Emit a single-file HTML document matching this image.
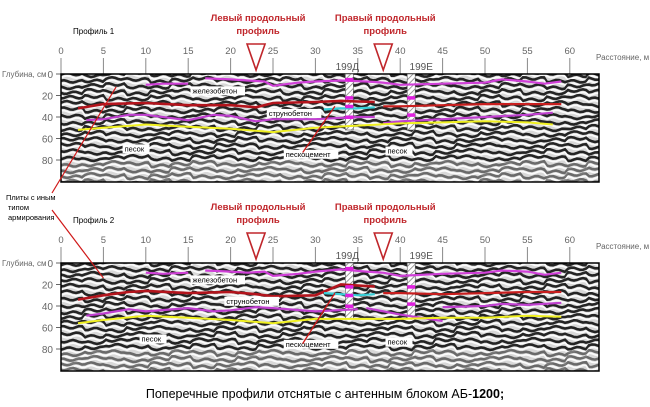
<!DOCTYPE html>
<html><head><meta charset="utf-8"><style>
body{margin:0;background:#fff;width:650px;height:402px;overflow:hidden;font-family:"Liberation Sans",sans-serif}
svg text{font-family:"Liberation Sans",sans-serif}
</style></head><body>
<svg id="chart" width="650" height="402" viewBox="0 0 650 402" xmlns="http://www.w3.org/2000/svg">
<defs>
<pattern id="hatch" width="4" height="4" patternUnits="userSpaceOnUse" patternTransform="rotate(45)">
<rect width="4" height="4" fill="#fff"/><line x1="0" y1="0" x2="0" y2="4" stroke="#777" stroke-width="1.5"/></pattern>
</defs>
<g id="root"></g>
<text x="325" y="398" text-anchor="middle" font-size="12.5" fill="#000">Поперечные профили отснятые с антенным блоком АБ-<tspan font-weight="bold">1200;</tspan></text>
</svg>
<script>
// ---- data ----
const xTicks = [0,5,10,15,20,25,30,35,40,45,50,55,60];
const yTicks = [0,20,40,60,80];
const profileNames = ["Профиль 1","Профиль 2"];
const leftProfileDist = 23, rightProfileDist = 38;
const borehole1Dist = 34, borehole2Dist = 41.3;
// Profile 1 interpretation lines (distance m, depth cm)
const p1MagTopA_x=[10,12,15], p1MagTopA_y=[10,9,9];
const p1MagTopB_x=[17,20,22,24,25,28,30,33,36,38,40,45,50,52,55,57,59], p1MagTopB_y=[4,5,6,7,11,8,7,6,7,8,10,9,8,5,7,9,7];
const p1RedA_x=[2,5,10,15,20,23,25,30,33,37], p1RedA_y=[32,28,27,29,29,31,27,26,25,26];
const p1RedB_x=[38,40,45,50,55,59], p1RedB_y=[30,30,29,28,28,28];
const p1Cyan_x=[31,33,35,37], p1Cyan_y=[33,32,32,31];
const p1MagLowA_x=[3,5,8,10,15,18,20,23,25,30,35,37], p1MagLowA_y=[43,42,38,38,43,38,39,44,42,42,40,40];
const p1MagLowB_x=[38,40,45,50,55,58], p1MagLowB_y=[46,44,42,40,38,36];
const p1Yel_x=[2,5,10,15,20,25,30,35,40,45,50,55,58], p1Yel_y=[52,50,47,49,51,54,50,48,46,45,44,45,47];
// Profile 2
const p2MagTopA_x=[10,12,15], p2MagTopA_y=[9,10,9];
const p2MagTopB_x=[17,20,22,24,25,28,30,33,36,38,40,45,50,52,55,57,59], p2MagTopB_y=[7,8,9,8,12,10,8,6,8,9,12,10,9,7,8,11,9];
const p2RedA_x=[2,5,8,10,15,20,23,25,30,33,37], p2RedA_y=[34,30,27,26,28,27,29,31,30,20,22];
const p2RedB_x=[38,40,45,50,55,59], p2RedB_y=[28,28,29,28,27,27];
const p2Cyan_x=[31,33,35,37], p2Cyan_y=[28,29,30,29];
const p2MagLowA_x=[3,5,8,10,15,18,20,23,25,30,35], p2MagLowA_y=[49,47,43,45,42,45,44,41,42,45,43];
const p2MagLowB_x=[36,40,45], p2MagLowB_y=[42,48,54];
const p2MagLowC_x=[45,50,52,55,59], p2MagLowC_y=[41,40,38,39,37];
const p2Yel_x=[2,5,10,15,20,25,30,35,40,45,50,55,59], p2Yel_y=[56,53,49,51,53,56,52,52,52,51,51,49,50];

const NS="http://www.w3.org/2000/svg";
const root=document.getElementById('root');
function mk(tag,attrs,parent){const e=document.createElementNS(NS,tag);for(const k in attrs)e.setAttribute(k,attrs[k]);(parent||root).appendChild(e);return e;}

const X0=61, PX=8.48, RIGHT=599, DEPTHSCALE=1.075;
function sx(d){return X0+d*PX;}

function drawPanel(idx, top){
  const g=mk('g',{});
  
  
  const sy=v=>top+v*DEPTHSCALE;
  const bottom=top+108;
  // title
  const t=mk('text',{x:73,y:top-40,'font-size':8,fill:'#000'},g);t.textContent=profileNames[idx];
  
  
  // x axis ticks
  xTicks.forEach(v=>{
    const l=mk('line',{x1:sx(v),x2:sx(v),y1:top-16,y2:top,stroke:'#888','stroke-width':1},g);
    
    
    const tx=mk('text',{x:sx(v),y:top-20,'font-size':9.5,fill:'#666','text-anchor':'middle'},g);tx.textContent=v;
    
    
  });
  const xl=mk('text',{x:596,y:top-14,'font-size':8,fill:'#666'},g);xl.textContent='Расстояние, м';
  
  
  const yl=mk('text',{x:2,y:top+3,'font-size':8,fill:'#666'},g);yl.textContent='Глубина, см';
  
  
  yTicks.forEach(v=>{
    const l=mk('line',{x1:X0-5,x2:X0,y1:sy(v),y2:sy(v),stroke:'#666'},g);
    
    
    const tx=mk('text',{x:X0-8,y:sy(v)+4,'font-size':10,fill:'#666','text-anchor':'end'},g);tx.textContent=v;
    
    
  });
  // radargram
  const rg=mk('g',{},g);
  
  
  mk('rect',{x:X0,y:top,width:RIGHT-X0,height:108,fill:'#d8d8d8'},rg);
  const clipId='clip'+idx;
  const cp=mk('clipPath',{id:clipId},g);mk('rect',{x:X0,y:top,width:RIGHT-X0,height:108},cp);
  const sg=mk('g',{'clip-path':'url(#'+clipId+')'},rg);
  for(let k=-1;k<20;k++){
    let d='',dw='';
    for(let x=X0;x<=RIGHT+4;x+=3){
      const seg=Math.floor((x-X0)/22);
      const ph=Math.sin(seg*1.7+k*0.9+idx)*1.8;
      const y=top+k*6+ph+Math.sin(x*0.35+k*1.3+seg)*1.2;
      d+=(x===X0?'M':'L')+x+','+y.toFixed(1)+' ';
      dw+=(x===X0?'M':'L')+x+','+(y+3).toFixed(1)+' ';
    }
    const op=(k>14)?0.55:0.9;
    mk('path',{d:d,fill:'none',stroke:'#111','stroke-width':2.6,'stroke-opacity':op},sg);
    mk('path',{d:dw,fill:'none',stroke:'#fff','stroke-width':1.8,'stroke-opacity':0.9},sg);
  }
  mk('rect',{x:X0,y:top,width:RIGHT-X0,height:108,fill:'none',stroke:'#000','stroke-width':1.5},rg);
  // boreholes
  [[borehole1Dist,'199Д'],[borehole2Dist,'199Е']].forEach(([d,lab])=>{
    const r=mk('rect',{x:sx(d)-4,y:top,width:8,height:56,fill:'url(#hatch)',stroke:'#555','stroke-width':0.6},g);
    
    
    const tx=mk('text',{x:sx(d)-(lab==='199Д'?2:-10),y:top-4,'font-size':10,fill:'#555','text-anchor':'middle'},g);tx.textContent=lab;
    
    
  });
  return {g,sy,top,bottom};
}

function line(panel,xs,ys,color,name,w){
  const d=xs.map((v,i)=>(i?'L':'M')+sx(v).toFixed(1)+','+panel.sy(ys[i]).toFixed(1)).join(' ');
  const p=mk('path',{d:d,fill:'none',stroke:color,'stroke-width':w||2.2},panel.g);
  
  
}
function label(panel,d,dep,txt){
  const w=txt.length*4.6+4;
  const r=mk('rect',{x:sx(d)-2,y:panel.sy(dep)-7,width:w,height:9,fill:'#fff'},panel.g);
  
  
  const t=mk('text',{x:sx(d),y:panel.sy(dep),'font-size':7.5,fill:'#000'},panel.g);t.textContent=txt;
  
  
}
function triangles(top){
  [[leftProfileDist,'Левый продольный'],[rightProfileDist,'Правый продольный']].forEach(([d,txt])=>{
    const c=sx(d);
    const p=mk('path',{d:`M${c-9},${top-30} L${c+9},${top-30} L${c},${top-4} Z`,fill:'#fff',stroke:'#c0262b','stroke-width':1.6});
    
    
    const t1=mk('text',{x:c+2,y:top-53,'font-size':9.5,'font-weight':'bold',fill:'#c0262b','text-anchor':'middle'});t1.textContent=txt;
    
    
    const t2=mk('text',{x:c+2,y:top-40,'font-size':9.5,'font-weight':'bold',fill:'#c0262b','text-anchor':'middle'});t2.textContent='профиль';
    
    
  });
}

const P1=drawPanel(0,74), P2=drawPanel(1,263);
[[P1,[p1MagTopA_x,p1MagTopA_y],[p1MagTopB_x,p1MagTopB_y],[p1RedA_x,p1RedA_y],[p1RedB_x,p1RedB_y],[p1Cyan_x,p1Cyan_y],[[p1MagLowA_x,p1MagLowA_y],[p1MagLowB_x,p1MagLowB_y]],[p1Yel_x,p1Yel_y]],
 [P2,[p2MagTopA_x,p2MagTopA_y],[p2MagTopB_x,p2MagTopB_y],[p2RedA_x,p2RedA_y],[p2RedB_x,p2RedB_y],[p2Cyan_x,p2Cyan_y],[[p2MagLowA_x,p2MagLowA_y],[p2MagLowB_x,p2MagLowB_y],[p2MagLowC_x,p2MagLowC_y]],[p2Yel_x,p2Yel_y]]
].forEach(([P,ma,mb,ra,rb,cy,ml,ye])=>{
  line(P,ma[0],ma[1],'#d040d8','top-reinforced-concrete-line');
  line(P,mb[0],mb[1],'#d040d8','top-reinforced-concrete-line');
  line(P,ra[0],ra[1],'#b3141c','reinforced-concrete-bottom-line',2.6);
  line(P,rb[0],rb[1],'#c81e1e','reinforced-concrete-bottom-line',2.2);
  line(P,cy[0],cy[1],'#38d0d8','sand-cement-line',2.2);
  ml.forEach(s=>line(P,s[0],s[1],'#c040d0','string-concrete-bottom-line'));
  line(P,ye[0],ye[1],'#f0f020','sand-top-line',2);
  [[borehole1Dist,[5,22,30,40]],[borehole2Dist,[22,38]]].forEach(([d,deps])=>deps.forEach(dp=>{
    const r=mk('rect',{x:sx(d)-4,y:P.sy(dp)-1.5,width:8,height:3.5,fill:'#e020e0'},P.g);
    
    
  }));
  label(P,15.5,18,'железобетон');
  label(P,P===P1?24.5:19.5,P===P1?39:38,'струнобетон');
  label(P,P===P1?7.5:9.5,P===P1?72:73,'песок');
  label(P,26.5,P===P1?77:78,'пескоцемент');
  label(P,38.5,P===P1?74:76,'песок');
  const a=mk('path',{d:`M${sx(28.5)},${P.sy(P===P1?73:75)} L${sx(32.3)},${P.sy(P===P1?30:28)}`,stroke:'#d01818','stroke-width':1.3,fill:'none'},P.g);
  
  
});
triangles(74); triangles(263);
// annotation
const ann=mk('text',{x:6,y:200,'font-size':7.5,fill:'#000'});


['Плиты с иным','типом','армирования'].forEach((s,i)=>{const ts=mk('tspan',{x:6+(i?2:0),dy:i?10:0},ann);ts.textContent=s;});
const l1=mk('path',{d:`M52,193 L${sx(6.5)},${P1.sy(12)}`,stroke:'#d01818','stroke-width':1.2,fill:'none'});


const l2=mk('path',{d:`M52,210 L${sx(5)},${P2.sy(14)}`,stroke:'#d01818','stroke-width':1.2,fill:'none'});


</script>
</body></html>
